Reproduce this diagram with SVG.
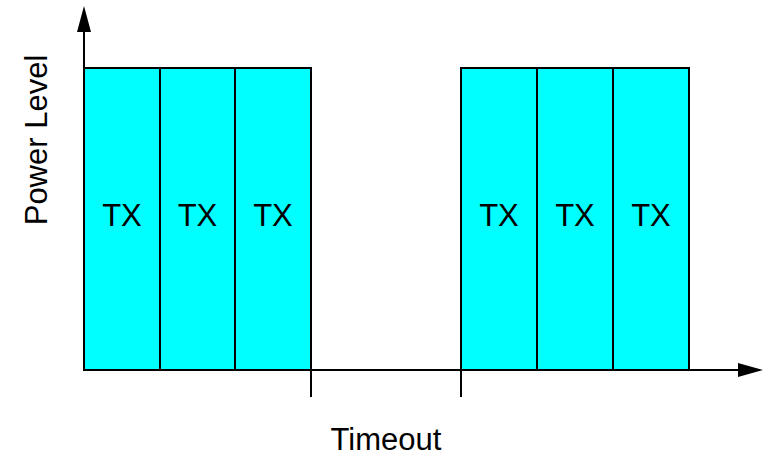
<svg xmlns="http://www.w3.org/2000/svg" width="770" height="456" viewBox="0 0 770 456">
<style>
.box{fill:#00ffff;stroke:#000;stroke-width:2}
.ax{stroke:#000;stroke-width:2;fill:none}
.t{font-family:"Liberation Sans",Arial,sans-serif;font-size:31px;fill:#000;text-anchor:middle}
</style>
<rect width="770" height="456" fill="#fff"/>
<g id="tx1"><rect class="box" x="84" y="68" width="76" height="302"/><text class="t" x="122" y="226">TX</text></g>
<g id="tx2"><rect class="box" x="160" y="68" width="75" height="302"/><text class="t" x="197.5" y="226">TX</text></g>
<g id="tx3"><rect class="box" x="235" y="68" width="76" height="302"/><text class="t" x="273" y="226">TX</text></g>
<g id="tx4"><rect class="box" x="461" y="68" width="76" height="302"/><text class="t" x="499" y="226">TX</text></g>
<g id="tx5"><rect class="box" x="537" y="68" width="76" height="302"/><text class="t" x="575" y="226">TX</text></g>
<g id="tx6"><rect class="box" x="613" y="68" width="76" height="302"/><text class="t" x="651" y="226">TX</text></g>
<g id="connectors">
<line class="ax" x1="84" y1="370" x2="84" y2="30"/>
<polygon points="84,6 77,32 91,32" fill="#000"/>
<line class="ax" x1="84" y1="370" x2="740" y2="370"/>
<polygon points="763,370 738,363 738,377" fill="#000"/>
<line class="ax" x1="311" y1="370" x2="311" y2="397"/>
<line class="ax" x1="461" y1="370" x2="461" y2="397"/>
</g>
<text class="t" x="386" y="450">Timeout</text>
<text class="t" transform="translate(47,140) rotate(-90)" x="0" y="0">Power Level</text>
</svg>
